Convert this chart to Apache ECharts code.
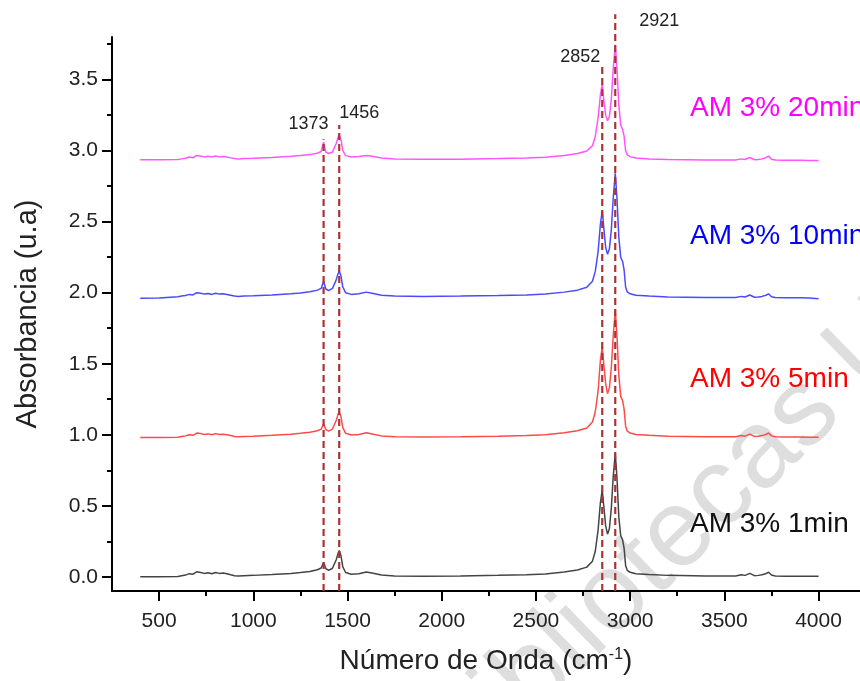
<!DOCTYPE html>
<html>
<head>
<meta charset="utf-8">
<script src="https://cdn.jsdelivr.net/npm/echarts@6/dist/echarts.min.js"></script>
<style>html,body{margin:0;padding:0;background:#fff;}#chart{width:860px;height:681px;}</style>
</head>
<body>
<div id="chart"></div>
<script>
// Shared wavenumber grid (cm-1)
const waveNumbers = [
  400, 500, 600, 620, 640, 660, 680, 700, 720, 740,
  760, 780, 800, 820, 840, 860, 880, 900, 920, 950,
  1000, 1100, 1200, 1250, 1300, 1340, 1360, 1373, 1385, 1400,
  1420, 1440, 1450, 1456, 1465, 1475, 1490, 1520, 1560, 1600,
  1630, 1680, 1750, 1900, 2100, 2300, 2450, 2550, 2650, 2720,
  2770, 2800, 2815, 2830, 2842, 2852, 2860, 2870, 2880, 2890,
  2900, 2910, 2921, 2930, 2940, 2950, 2960, 2968, 2976, 2985,
  3000, 3030, 3100, 3200, 3400, 3560, 3590, 3610, 3635, 3660,
  3680, 3700, 3720, 3735, 3750, 3770, 3820, 3900, 3950, 4000
];
const absorb1min = [
  0.000, 0.000, 0.002, 0.008, 0.012, 0.022, 0.018, 0.035, 0.030, 0.024,
  0.028, 0.022, 0.030, 0.024, 0.026, 0.022, 0.014, 0.008, 0.006, 0.008,
  0.010, 0.016, 0.024, 0.030, 0.038, 0.050, 0.062, 0.100, 0.058, 0.045,
  0.060, 0.120, 0.165, 0.185, 0.150, 0.070, 0.030, 0.018, 0.022, 0.034,
  0.026, 0.012, 0.006, 0.004, 0.006, 0.010, 0.014, 0.020, 0.034, 0.048,
  0.068, 0.110, 0.180, 0.330, 0.520, 0.610, 0.500, 0.360, 0.300, 0.340,
  0.480, 0.700, 0.870, 0.700, 0.420, 0.290, 0.260, 0.200, 0.080, 0.045,
  0.032, 0.022, 0.016, 0.010, 0.006, 0.006, 0.014, 0.010, 0.024, 0.008,
  0.010, 0.014, 0.022, 0.032, 0.012, 0.006, 0.004, 0.004, 0.003, 0.003
];
const absorb5min = [
  0.980, 0.980, 0.982, 0.988, 0.992, 1.000, 0.996, 1.012, 1.008, 1.002,
  1.006, 1.000, 1.008, 1.002, 1.004, 1.000, 0.994, 0.988, 0.986, 0.988,
  0.990, 0.996, 1.004, 1.010, 1.018, 1.028, 1.040, 1.075, 1.036, 1.025,
  1.040, 1.100, 1.145, 1.160, 1.130, 1.050, 1.010, 0.998, 1.002, 1.014,
  1.006, 0.992, 0.986, 0.984, 0.986, 0.990, 0.994, 1.000, 1.014, 1.028,
  1.048, 1.090, 1.160, 1.310, 1.520, 1.620, 1.500, 1.360, 1.290, 1.330,
  1.470, 1.690, 1.875, 1.700, 1.420, 1.270, 1.240, 1.180, 1.060, 1.025,
  1.012, 1.002, 0.996, 0.990, 0.986, 0.986, 0.994, 0.990, 1.004, 0.988,
  0.990, 0.994, 1.002, 1.012, 0.992, 0.986, 0.984, 0.984, 0.983, 0.983
];
const absorb10min = [
  1.960, 1.962, 1.972, 1.976, 1.980, 1.988, 1.984, 2.000, 1.996, 1.990,
  1.994, 1.988, 1.996, 1.990, 1.992, 1.988, 1.982, 1.976, 1.974, 1.976,
  1.978, 1.984, 1.992, 1.998, 2.006, 2.018, 2.030, 2.080, 2.026, 2.015,
  2.030, 2.090, 2.135, 2.150, 2.120, 2.040, 2.000, 1.988, 1.992, 2.004,
  1.996, 1.982, 1.976, 1.974, 1.976, 1.980, 1.984, 1.990, 2.004, 2.018,
  2.038, 2.080, 2.150, 2.290, 2.480, 2.580, 2.460, 2.320, 2.270, 2.310,
  2.440, 2.660, 2.840, 2.670, 2.390, 2.250, 2.220, 2.160, 2.040, 2.005,
  1.992, 1.982, 1.976, 1.970, 1.966, 1.966, 1.974, 1.970, 1.984, 1.968,
  1.970, 1.974, 1.982, 1.992, 1.972, 1.966, 1.964, 1.964, 1.963, 1.958
];
const absorb20min = [
  2.935, 2.935, 2.937, 2.942, 2.946, 2.955, 2.950, 2.966, 2.962, 2.956,
  2.960, 2.955, 2.962, 2.956, 2.958, 2.955, 2.949, 2.944, 2.942, 2.944,
  2.946, 2.952, 2.960, 2.965, 2.972, 2.982, 2.994, 3.060, 2.990, 2.980,
  2.990, 3.050, 3.095, 3.110, 3.080, 3.000, 2.965, 2.955, 2.958, 2.966,
  2.960, 2.948, 2.942, 2.940, 2.940, 2.944, 2.948, 2.954, 2.966, 2.980,
  2.998, 3.035, 3.100, 3.230, 3.390, 3.470, 3.360, 3.250, 3.210, 3.240,
  3.360, 3.570, 3.745, 3.590, 3.320, 3.180, 3.150, 3.100, 3.000, 2.970,
  2.958, 2.948, 2.942, 2.938, 2.934, 2.934, 2.942, 2.938, 2.952, 2.936,
  2.938, 2.942, 2.950, 2.962, 2.940, 2.934, 2.932, 2.932, 2.931, 2.931
];
const seriesNames = ['AM 3% 1min', 'AM 3% 5min', 'AM 3% 10min', 'AM 3% 20min'];
const seriesColors = ['#444444', '#ff4a4a', '#4a4aff', '#ff55ff'];
const labelColors = ['#111111', '#ff0000', '#0000ff', '#ff00ff'];
// Reference peaks (dashed lines) and how high each dashed line reaches
const peakWaveNumbers = [1373, 1456, 2852, 2921];
const peakLineTops = [3.08, 3.18, 3.59, 3.96];
// Axis ticks
const xTickValues = [500, 1000, 1500, 2000, 2500, 3000, 3500, 4000];
const xMinorValues = [750, 1250, 1750, 2250, 2750, 3250, 3750];
const yTickValues = [0.0, 0.5, 1.0, 1.5, 2.0, 2.5, 3.0, 3.5];
const yMinorValues = [0.25, 0.75, 1.25, 1.75, 2.25, 2.75, 3.25, 3.75];

const FONT = 'Liberation Sans, Arial, sans-serif';
const X_MIN = 250, X_MAX = 4220, Y_MIN = -0.1, Y_MAX = 3.8;

const chart = echarts.init(document.getElementById('chart'), null, {renderer: 'canvas'});

const allSpectra = [absorb1min, absorb5min, absorb10min, absorb20min];
const spectraSeries = allSpectra.map((vals, k) => ({
  name: seriesNames[k],
  type: 'line',
  xAxisIndex: 0, yAxisIndex: 0,
  data: waveNumbers.map((w, i) => [w, vals[i]]),
  showSymbol: false,
  symbol: 'none',
  smooth: false,
  lineStyle: {color: seriesColors[k], width: 1.5},
  z: 2,
  animation: false
}));

const labelOffsets = [[-15, -15], [20, -12], [-22, -10], [44, 7]];
const peakSeries = peakWaveNumbers.map((w, k) => ({
  type: 'line',
  xAxisIndex: 0, yAxisIndex: 0,
  clip: false,
  data: [
    {value: [w, Y_MIN], label: {show: false}},
    {value: [w, peakLineTops[k]], label: {
      show: true, position: 'inside', offset: labelOffsets[k],
      formatter: String(w), fontSize: 18, color: '#222', fontFamily: FONT
    }}
  ],
  symbol: 'circle', symbolSize: 1, showSymbol: true,
  itemStyle: {color: 'rgba(0,0,0,0)'},
  lineStyle: {color: '#a83434', width: 2.2, type: [7, 4]},
  z: 5,
  animation: false
}));

const labelPos = [524, 379, 236, 108];

const option = {
  backgroundColor: '#ffffff',
  animation: false,
  grid: {left: 112, right: 0, top: 37, bottom: 90, containLabel: false},
  xAxis: [
    {
      type: 'value', min: X_MIN, max: X_MAX, position: 'bottom',
      name: 'Número de Onda (cm{sup|-1})',
      nameLocation: 'middle', nameGap: 56,
      nameTextStyle: {fontSize: 28, color: '#222', fontFamily: FONT,
        rich: {sup: {fontSize: 16, color: '#222', fontFamily: FONT, padding: [0, 0, 13, 0]}}},
      axisLine: {onZero: false, lineStyle: {color: '#000', width: 2}},
      axisTick: {show: true, customValues: xTickValues, length: 10, inside: false, lineStyle: {color: '#000', width: 2}},
      axisLabel: {customValues: xTickValues, fontSize: 21, color: '#222', fontFamily: FONT, margin: 20,
        formatter: v => String(v)},
      splitLine: {show: false}
    },
    {
      type: 'value', min: X_MIN, max: X_MAX, position: 'bottom',
      axisLine: {show: false, onZero: false},
      axisTick: {show: true, customValues: xMinorValues, length: 5, lineStyle: {color: '#000', width: 2}},
      axisLabel: {show: false},
      splitLine: {show: false}
    }
  ],
  yAxis: [
    {
      type: 'value', min: Y_MIN, max: Y_MAX, position: 'left',
      name: 'Absorbancia (u.a)', nameLocation: 'middle', nameGap: 70, nameRotate: 90,
      nameTextStyle: {fontSize: 29, color: '#222', fontFamily: FONT},
      axisLine: {show: true, onZero: false, lineStyle: {color: '#000', width: 2}},
      axisTick: {show: true, customValues: yTickValues, length: 10, lineStyle: {color: '#000', width: 2}},
      axisLabel: {customValues: yTickValues, fontSize: 21, color: '#222', fontFamily: FONT, margin: 14,
        formatter: v => Number(v).toFixed(1)},
      splitLine: {show: false}
    },
    {
      type: 'value', min: Y_MIN, max: Y_MAX, position: 'left',
      axisLine: {show: false, onZero: false},
      axisTick: {show: true, customValues: yMinorValues, length: 5, lineStyle: {color: '#000', width: 2}},
      axisLabel: {show: false},
      splitLine: {show: false}
    }
  ],
  graphic: [
    {
      type: 'text', x: 450, y: 756, rotation: 0.77, z: -10, silent: true,
      style: {text: 'bibliotecas U', fill: '#dedede', fontSize: 110, fontFamily: FONT, verticalAlign: 'middle', align: 'left'}
    }
  ].concat(seriesNames.map((n, k) => ({
    type: 'text', x: 690, y: labelPos[k], z: 20,
    style: {text: n, fill: labelColors[k], fontSize: 28, fontFamily: FONT, verticalAlign: 'middle', align: 'left'}
  }))),
  series: spectraSeries.concat(peakSeries)
};
chart.setOption(option);
</script>
</body>
</html>
